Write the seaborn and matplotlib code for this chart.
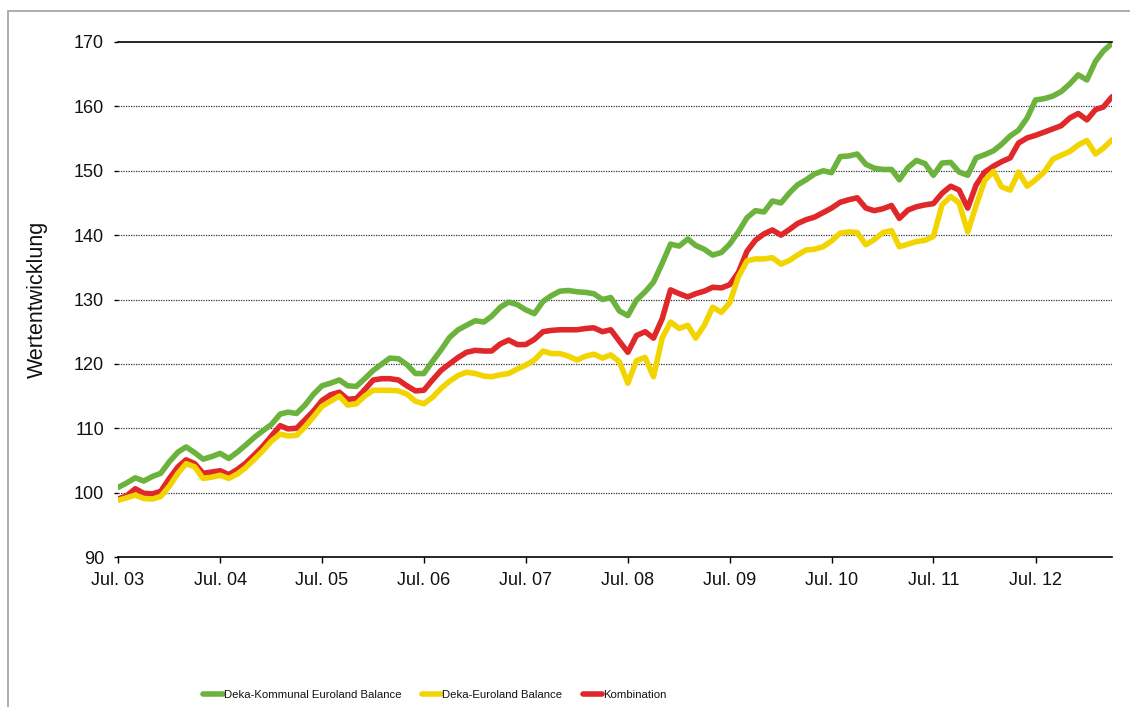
import pandas as pd
import matplotlib.pyplot as plt
from matplotlib.patches import Rectangle
import seaborn as sns

sns.set_theme(style="white")
plt.rcParams['font.family'] = ['Liberation Sans', 'DejaVu Sans']

# monthly values, Jul 2003 .. Apr 2013
dates = pd.date_range('2003-07-01', periods=118, freq='MS')

kommunal = [
    100.8, 101.5, 102.3, 101.8, 102.5, 103.0, 104.8, 106.3, 107.1, 106.2, 105.2, 105.6,
    106.1, 105.3, 106.3, 107.4, 108.6, 109.6, 110.6, 112.2, 112.5, 112.3, 113.6, 115.3,
    116.6, 117.0, 117.5, 116.6, 116.5, 117.7, 119.0, 120.0, 120.9, 120.8, 119.9, 118.5,
    118.5, 120.4, 122.2, 124.1, 125.3, 126.0, 126.7, 126.5, 127.4, 128.8, 129.6, 129.2,
    128.4, 127.8, 129.7, 130.6, 131.3, 131.4, 131.2, 131.1, 130.9, 130.0, 130.3, 128.2,
    127.5, 129.9, 131.2, 132.7, 135.6, 138.6, 138.3, 139.4, 138.4, 137.8, 136.9, 137.3,
    138.6, 140.5, 142.7, 143.8, 143.6, 145.3, 145.0, 146.6, 147.8, 148.6, 149.5, 150.0,
    149.7, 152.2, 152.3, 152.6, 151.0, 150.4, 150.2, 150.2, 148.6, 150.5, 151.6, 151.1,
    149.3, 151.2, 151.3, 149.8, 149.3, 152.0, 152.5, 153.1, 154.1, 155.4, 156.3, 158.2,
    161.0, 161.2, 161.6, 162.3, 163.5, 164.9, 164.1, 167.0, 168.6, 169.8,
]
euroland = [
    98.8, 99.2, 99.6, 99.1, 99.0, 99.4, 101.0, 103.0, 104.5, 104.0, 102.2, 102.4,
    102.7, 102.2, 102.9, 103.9, 105.2, 106.5, 108.0, 109.1, 108.8, 108.9, 110.2, 111.8,
    113.4, 114.2, 115.0, 113.6, 113.8, 115.0, 115.9, 115.9, 115.9, 115.8, 115.3, 114.2,
    113.8, 114.8, 116.2, 117.3, 118.2, 118.7, 118.5, 118.1, 118.0, 118.3, 118.5, 119.2,
    119.8, 120.6, 122.0, 121.6, 121.6, 121.2, 120.6, 121.2, 121.5, 120.9, 121.4, 120.3,
    117.0, 120.5, 121.0, 118.0, 124.0, 126.5, 125.5, 126.0, 124.0, 126.0, 128.8, 128.0,
    129.5, 133.5, 136.0, 136.3, 136.3, 136.5, 135.5, 136.1, 136.9, 137.7, 137.8, 138.2,
    139.1, 140.3, 140.5, 140.4, 138.5, 139.3, 140.4, 140.7, 138.2, 138.6, 139.0, 139.2,
    139.8, 144.7, 146.0, 145.0, 140.5, 144.6, 148.5, 149.9, 147.5, 147.0, 149.8, 147.6,
    148.6, 149.8, 151.8, 152.4, 153.0, 154.0, 154.7, 152.6, 153.5, 154.8,
]
kombination = [
    99.0, 99.5, 100.6, 99.9, 99.8, 100.2, 102.2, 104.0, 105.1, 104.5, 103.0, 103.2,
    103.4, 102.8, 103.6, 104.6, 105.9, 107.2, 108.8, 110.4, 109.9, 110.0, 111.3, 112.7,
    114.3, 115.2, 115.6, 114.5, 114.6, 116.0, 117.5, 117.7, 117.7, 117.5, 116.6, 115.8,
    115.9, 117.5, 119.0, 120.0, 121.0, 121.8, 122.1, 122.0, 122.0, 123.1, 123.7, 123.0,
    123.0, 123.8, 125.0, 125.2, 125.3, 125.3, 125.3, 125.5, 125.6, 125.0, 125.3, 123.5,
    121.8, 124.4, 125.0, 124.0, 127.0, 131.5, 130.9, 130.4, 130.9, 131.3, 131.9, 131.8,
    132.3, 134.2, 137.5, 139.2, 140.2, 140.8, 140.0, 140.9, 141.8, 142.4, 142.8, 143.5,
    144.2, 145.1, 145.5, 145.8, 144.2, 143.8, 144.1, 144.6, 142.6, 143.9, 144.4, 144.7,
    144.9, 146.5, 147.6, 147.0, 144.2, 147.8, 149.8, 150.7, 151.4, 152.0, 154.3, 155.1,
    155.5, 156.0, 156.5, 157.0, 158.2, 158.9, 157.9, 159.5, 159.9, 161.5,
]

series_names = ['Deka-Kommunal Euroland Balance', 'Deka-Euroland Balance', 'Kombination']
series_colors = ['#6cb33e', '#f2d500', '#e0282a']
series_z = [2, 4, 3]
y_ticks = [90, 100, 110, 120, 130, 140, 150, 160, 170]
x_tick_dates = pd.date_range('2003-07-01', '2012-07-01', freq='12MS')
x_tick_labels = [d.strftime('Jul. %y') for d in x_tick_dates]

fig = plt.figure(figsize=(11.3, 7.07), dpi=100)
ax = fig.add_axes([118/1130, 1-557/707, (1112-118)/1130, (557-42)/707])

for vals, name, col, z in zip([kommunal, euroland, kombination], series_names, series_colors, series_z):
    sns.lineplot(x=dates, y=vals, color=col, lw=4, label=name, ax=ax, zorder=z)

ax.set_xlim(dates[0], dates[-1])
ax.set_ylim(90, 170)
ax.set_yticks(y_ticks)
ax.set_xticks(x_tick_dates)
ax.set_xticklabels(x_tick_labels)

for v in y_ticks[1:-1]:
    ax.axhline(v, color='#333333', lw=0.9, ls=(0, (1, 1)), zorder=0)

for s in ['left', 'right']:
    ax.spines[s].set_visible(False)
for s in ['top', 'bottom']:
    ax.spines[s].set_color('black')
    ax.spines[s].set_linewidth(1.2)

ax.tick_params(axis='y', left=True, length=3, width=1, color='black', pad=7,
               labelsize=13, labelcolor='#111111')
ax.tick_params(axis='x', bottom=True, direction='out', length=4, width=1, color='black',
               pad=7, labelsize=13, labelcolor='#111111')
ax.set_xlabel('')
ax.set_ylabel('Wertentwicklung', fontsize=15.5, color='#111111', labelpad=19)

leg = ax.legend(loc='center', bbox_to_anchor=(0.385, 0.017), bbox_transform=fig.transFigure,
                ncol=3, frameon=False, fontsize=8.2, handlelength=1.7, handletextpad=0.1,
                columnspacing=1.8)
for t in leg.get_texts():
    t.set_color('#111111')

# outer frame (cut off at right and bottom)
fig.patches.append(Rectangle((8/1130, -0.2), 1.2, 1.2 - 11/707, transform=fig.transFigure,
                             fill=False, edgecolor='#a0a0a0', lw=1.2))

plt.savefig('out.png', dpi=100)
plt.close()
